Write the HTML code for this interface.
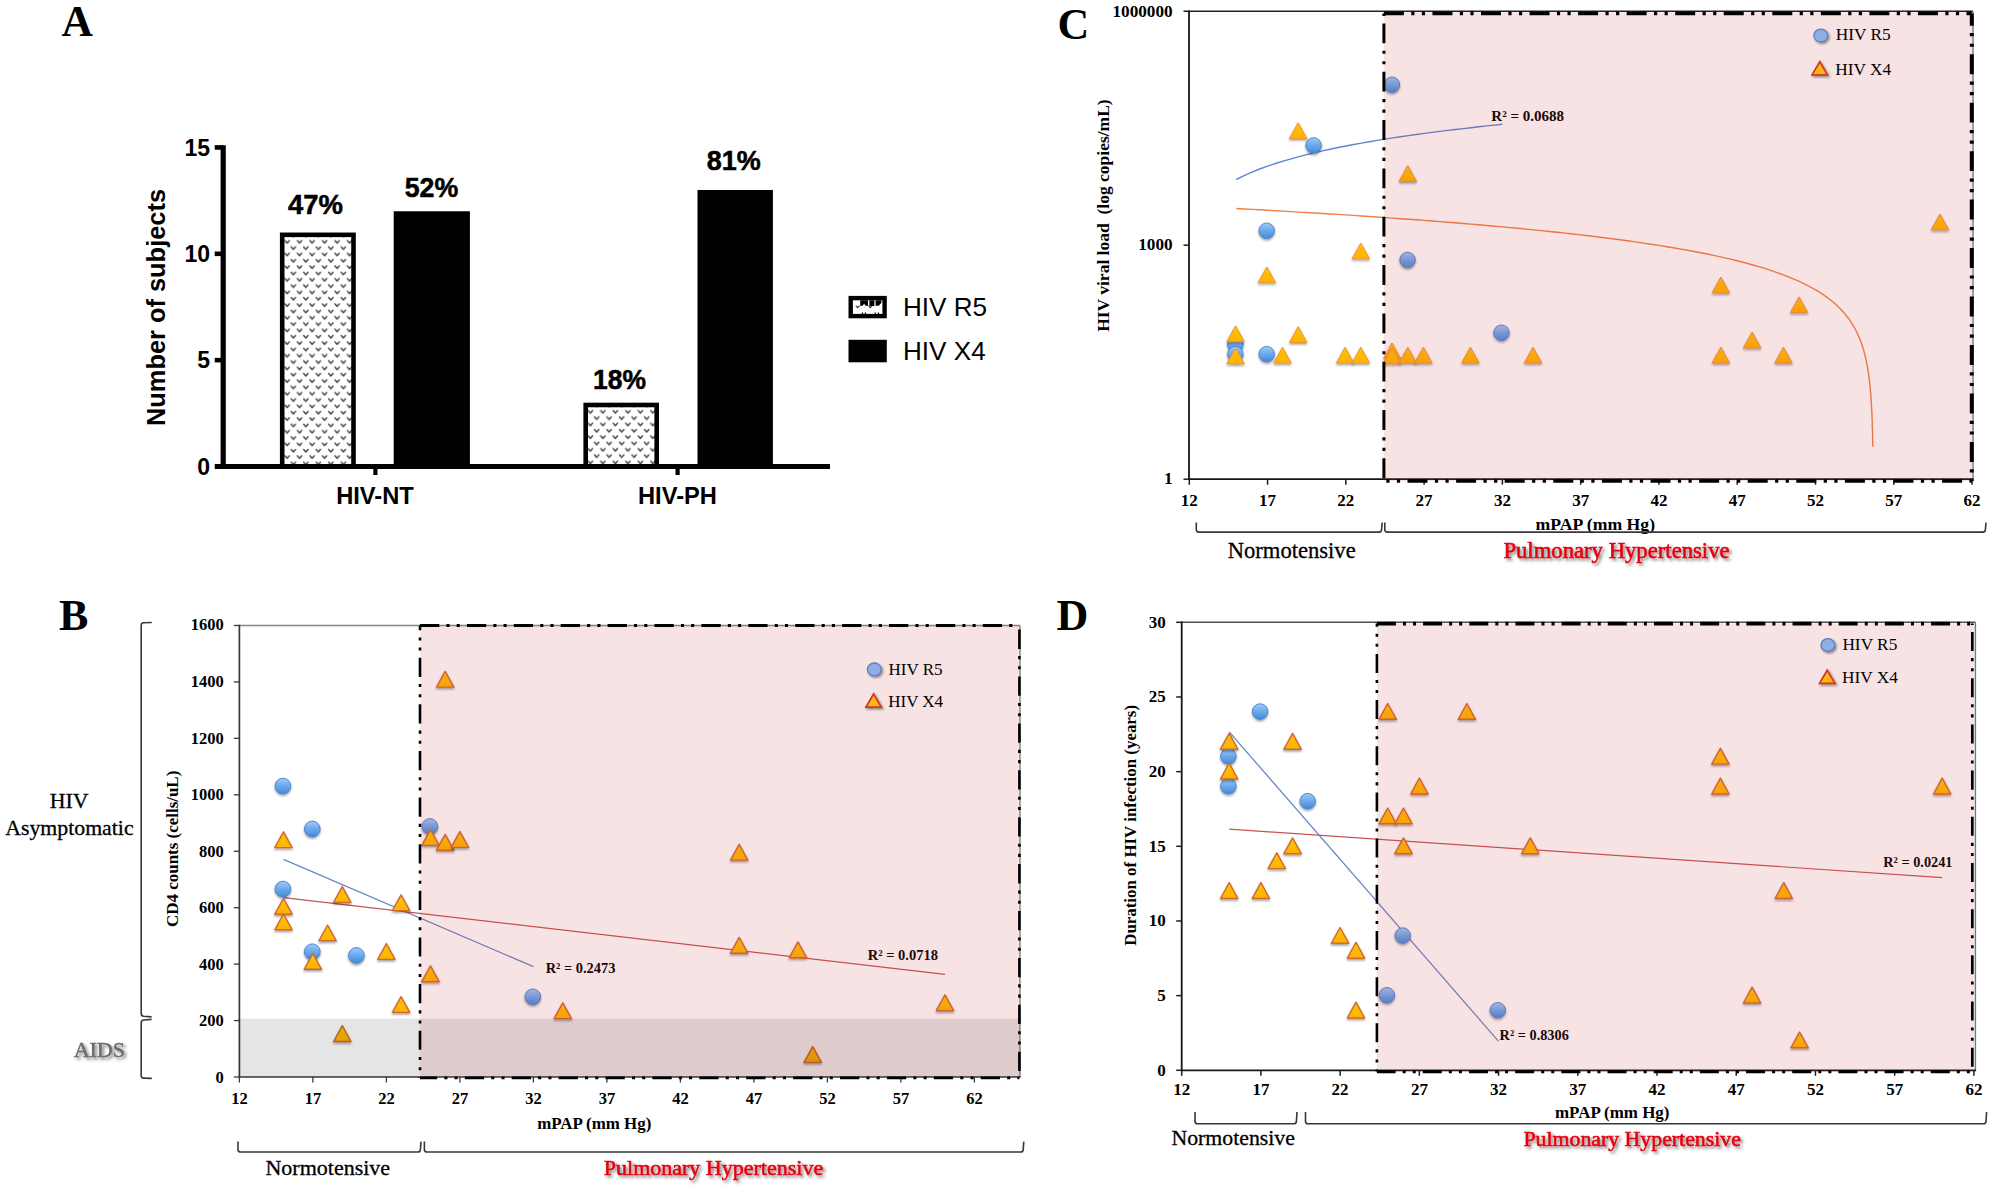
<!DOCTYPE html>
<html lang="en"><head><meta charset="utf-8"><title>HIV tropism and pulmonary hypertension</title>
<style>html,body{margin:0;padding:0;background:#fff}svg{display:block}</style></head><body>
<svg width="1990" height="1190" viewBox="0 0 1990 1190">
<defs>
<pattern id="vp1" width="12.5" height="12.66" patternUnits="userSpaceOnUse" patternTransform="translate(283.90,238.70)"><path d="M1.10 1.90 L3.20 4.40 L5.30 1.90 M7.35 8.23 L9.45 10.73 L11.55 8.23" stroke="#4a4a4a" stroke-width="1.5" fill="none" stroke-linecap="round" stroke-linejoin="round"/></pattern>
<pattern id="vp3" width="12.5" height="12.66" patternUnits="userSpaceOnUse" patternTransform="translate(587.20,408.70)"><path d="M1.10 1.90 L3.20 4.40 L5.30 1.90 M7.35 8.23 L9.45 10.73 L11.55 8.23" stroke="#4a4a4a" stroke-width="1.5" fill="none" stroke-linecap="round" stroke-linejoin="round"/></pattern>
<linearGradient id="gc" x1="0" y1="0" x2="0" y2="1"><stop offset="0" stop-color="#9ecbfa"/><stop offset="0.5" stop-color="#6aa8ec"/><stop offset="1" stop-color="#418ad8"/></linearGradient>
<linearGradient id="gt" x1="0" y1="0" x2="0" y2="1"><stop offset="0" stop-color="#ffc10a"/><stop offset="1" stop-color="#ffb300"/></linearGradient>
<filter id="ms" x="-30%" y="-30%" width="160%" height="170%"><feDropShadow dx="0" dy="1.6" stdDeviation="1.1" flood-color="#000" flood-opacity="0.38"/></filter>
<filter id="ls" x="-30%" y="-30%" width="170%" height="170%"><feDropShadow dx="1.3" dy="1.5" stdDeviation="0.9" flood-color="#000" flood-opacity="0.45"/></filter>
<filter id="ts" x="-5%" y="-20%" width="110%" height="150%"><feDropShadow dx="2.2" dy="2.2" stdDeviation="1.4" flood-color="#000" flood-opacity="0.5"/></filter>
</defs>
<rect width="1990" height="1190" fill="#fff"/>

<g id="panelA">
<text x="61.5" y="36.0" font-family="'Liberation Serif', serif" font-size="43.5" font-weight="bold" text-anchor="start" fill="#000" >A</text>
<rect x="282.20" y="234.83" width="71.30" height="231.67" fill="#fff"/>
<rect x="282.20" y="234.83" width="71.30" height="231.67" fill="url(#vp1)" stroke="#000" stroke-width="4.6"/>
<rect x="393.70" y="211.26" width="76.20" height="255.24" fill="#000"/>
<rect x="585.70" y="404.99" width="71.00" height="61.51" fill="#fff"/>
<rect x="585.70" y="404.99" width="71.00" height="61.51" fill="url(#vp3)" stroke="#000" stroke-width="4.6"/>
<rect x="697.50" y="189.99" width="75.40" height="276.51" fill="#000"/>
<line x1="223.20" y1="145.20" x2="223.20" y2="469.00" stroke="#000" stroke-width="5.2" />
<line x1="214.70" y1="466.50" x2="830.00" y2="466.50" stroke="#000" stroke-width="5" />
<text x="210.0" y="474.7" font-family="'Liberation Sans', sans-serif" font-size="23" font-weight="bold" text-anchor="end" fill="#000" >0</text>
<line x1="214.70" y1="360.15" x2="223.00" y2="360.15" stroke="#000" stroke-width="4.6" />
<text x="210.0" y="368.3" font-family="'Liberation Sans', sans-serif" font-size="23" font-weight="bold" text-anchor="end" fill="#000" >5</text>
<line x1="214.70" y1="253.80" x2="223.00" y2="253.80" stroke="#000" stroke-width="4.6" />
<text x="210.0" y="262.0" font-family="'Liberation Sans', sans-serif" font-size="23" font-weight="bold" text-anchor="end" fill="#000" >10</text>
<line x1="214.70" y1="147.45" x2="223.00" y2="147.45" stroke="#000" stroke-width="4.6" />
<text x="210.0" y="155.6" font-family="'Liberation Sans', sans-serif" font-size="23" font-weight="bold" text-anchor="end" fill="#000" >15</text>
<line x1="375.40" y1="468.00" x2="375.40" y2="475.00" stroke="#000" stroke-width="4.2" />
<line x1="677.60" y1="468.00" x2="677.60" y2="475.00" stroke="#000" stroke-width="4.2" />
<text x="375.0" y="504.3" font-family="'Liberation Sans', sans-serif" font-size="23.7" font-weight="bold" text-anchor="middle" fill="#000" >HIV-NT</text>
<text x="677.5" y="504.3" font-family="'Liberation Sans', sans-serif" font-size="23.7" font-weight="bold" text-anchor="middle" fill="#000" >HIV-PH</text>
<text transform="translate(165.2,307.5) rotate(-90)" font-family="'Liberation Sans', sans-serif" font-size="25.4" font-weight="bold" text-anchor="middle" fill="#000" >Number of subjects</text>
<text x="315.4" y="213.6" font-family="'Liberation Sans', sans-serif" font-size="27.2" font-weight="bold" text-anchor="middle" fill="#000" textLength="55" lengthAdjust="spacingAndGlyphs" stroke="#000" stroke-width="0.5">47%</text>
<text x="431.5" y="197.0" font-family="'Liberation Sans', sans-serif" font-size="27.2" font-weight="bold" text-anchor="middle" fill="#000" textLength="53.5" lengthAdjust="spacingAndGlyphs" stroke="#000" stroke-width="0.5">52%</text>
<text x="619.6" y="388.7" font-family="'Liberation Sans', sans-serif" font-size="27.2" font-weight="bold" text-anchor="middle" fill="#000" textLength="53" lengthAdjust="spacingAndGlyphs" stroke="#000" stroke-width="0.5">18%</text>
<text x="733.8" y="170.2" font-family="'Liberation Sans', sans-serif" font-size="27.2" font-weight="bold" text-anchor="middle" fill="#000" textLength="54" lengthAdjust="spacingAndGlyphs" stroke="#000" stroke-width="0.5">81%</text>
<rect x="850.7" y="298.1" width="33.9" height="18" fill="#fff" stroke="#000" stroke-width="4.4"/>
<path d="M860.2 300.2h7.8v5.6h-2.4l-1.5 -2l-1.5 2h-2.4z M869.4 300.2h5v5.8h-5z M875.6 300.2h5.8v2.6l-2.6 3h-3.2z M861.8 312.6h1.3v1.6h-1.3z M864.8 312.6h1.3v1.6h-1.3z M874.6 312.6h1.3v1.6h-1.3z M877.8 312.6h1.3v1.6h-1.3z" fill="#000"/>
<path d="M855.8 305.6 l1.9 2 l1.9 -2 M868.4 305.6 l1.9 2 l1.9 -2" stroke="#333" stroke-width="1.1" fill="none"/>
<rect x="848.5" y="339.8" width="38.3" height="22.5" fill="#000"/>
<text x="903.0" y="316.2" font-family="'Liberation Sans', sans-serif" font-size="26.1" font-weight="normal" text-anchor="start" fill="#000" >HIV R5</text>
<text x="903.0" y="359.8" font-family="'Liberation Sans', sans-serif" font-size="26.1" font-weight="normal" text-anchor="start" fill="#000" >HIV X4</text>
</g>
<g id="panelB">
<text x="59.0" y="629.7" font-family="'Liberation Serif', serif" font-size="44" font-weight="bold" text-anchor="start" fill="#000" >B</text>
<line x1="239.40" y1="625.50" x2="1020.00" y2="625.50" stroke="#858585" stroke-width="1.5" />
<line x1="1020.00" y1="625.50" x2="1020.00" y2="1077.00" stroke="#858585" stroke-width="1.4" />
<path d="M239.40 624.80 L239.40 1077.00 L1020.70 1077.00" fill="none" stroke="#383838" stroke-width="1.7"/>
<line x1="233.90" y1="1077.00" x2="239.40" y2="1077.00" stroke="#383838" stroke-width="1.3" />
<line x1="233.90" y1="1020.56" x2="239.40" y2="1020.56" stroke="#383838" stroke-width="1.3" />
<line x1="233.90" y1="964.12" x2="239.40" y2="964.12" stroke="#383838" stroke-width="1.3" />
<line x1="233.90" y1="907.68" x2="239.40" y2="907.68" stroke="#383838" stroke-width="1.3" />
<line x1="233.90" y1="851.24" x2="239.40" y2="851.24" stroke="#383838" stroke-width="1.3" />
<line x1="233.90" y1="794.80" x2="239.40" y2="794.80" stroke="#383838" stroke-width="1.3" />
<line x1="233.90" y1="738.36" x2="239.40" y2="738.36" stroke="#383838" stroke-width="1.3" />
<line x1="233.90" y1="681.92" x2="239.40" y2="681.92" stroke="#383838" stroke-width="1.3" />
<line x1="233.90" y1="625.48" x2="239.40" y2="625.48" stroke="#383838" stroke-width="1.3" />
<line x1="239.40" y1="1077.00" x2="239.40" y2="1082.50" stroke="#383838" stroke-width="1.3" />
<line x1="312.90" y1="1077.00" x2="312.90" y2="1082.50" stroke="#383838" stroke-width="1.3" />
<line x1="386.40" y1="1077.00" x2="386.40" y2="1082.50" stroke="#383838" stroke-width="1.3" />
<line x1="459.90" y1="1077.00" x2="459.90" y2="1082.50" stroke="#383838" stroke-width="1.3" />
<line x1="533.40" y1="1077.00" x2="533.40" y2="1082.50" stroke="#383838" stroke-width="1.3" />
<line x1="606.90" y1="1077.00" x2="606.90" y2="1082.50" stroke="#383838" stroke-width="1.3" />
<line x1="680.40" y1="1077.00" x2="680.40" y2="1082.50" stroke="#383838" stroke-width="1.3" />
<line x1="753.90" y1="1077.00" x2="753.90" y2="1082.50" stroke="#383838" stroke-width="1.3" />
<line x1="827.40" y1="1077.00" x2="827.40" y2="1082.50" stroke="#383838" stroke-width="1.3" />
<line x1="900.90" y1="1077.00" x2="900.90" y2="1082.50" stroke="#383838" stroke-width="1.3" />
<line x1="974.40" y1="1077.00" x2="974.40" y2="1082.50" stroke="#383838" stroke-width="1.3" />
<line x1="283.50" y1="859.42" x2="533.40" y2="966.66" stroke="#6488c4" stroke-width="1.25" />
<line x1="283.50" y1="897.66" x2="945.00" y2="974.28" stroke="#c45452" stroke-width="1.2" />
<circle cx="282.9" cy="786.1" r="7.9" fill="url(#gc)" stroke="#4a80c8" stroke-width="0.9" filter="url(#ms)"/>
<circle cx="312.3" cy="829.0" r="7.9" fill="url(#gc)" stroke="#4a80c8" stroke-width="0.9" filter="url(#ms)"/>
<circle cx="282.9" cy="889.1" r="7.9" fill="url(#gc)" stroke="#4a80c8" stroke-width="0.9" filter="url(#ms)"/>
<circle cx="312.3" cy="951.8" r="7.9" fill="url(#gc)" stroke="#4a80c8" stroke-width="0.9" filter="url(#ms)"/>
<circle cx="356.4" cy="955.5" r="7.9" fill="url(#gc)" stroke="#4a80c8" stroke-width="0.9" filter="url(#ms)"/>
<circle cx="429.9" cy="826.5" r="7.9" fill="url(#gc)" stroke="#4a80c8" stroke-width="0.9" filter="url(#ms)"/>
<circle cx="532.8" cy="996.9" r="7.9" fill="url(#gc)" stroke="#4a80c8" stroke-width="0.9" filter="url(#ms)"/>
<path d="M283.5 831.8 L292.2 847.6 L274.8 847.6 Z" fill="url(#gt)" stroke="#cf6a30" stroke-width="1.4" stroke-linejoin="round" filter="url(#ms)"/>
<path d="M283.5 898.4 L292.2 914.2 L274.8 914.2 Z" fill="url(#gt)" stroke="#cf6a30" stroke-width="1.4" stroke-linejoin="round" filter="url(#ms)"/>
<path d="M283.5 914.0 L292.2 929.8 L274.8 929.8 Z" fill="url(#gt)" stroke="#cf6a30" stroke-width="1.4" stroke-linejoin="round" filter="url(#ms)"/>
<path d="M312.9 953.5 L321.6 969.3 L304.2 969.3 Z" fill="url(#gt)" stroke="#cf6a30" stroke-width="1.4" stroke-linejoin="round" filter="url(#ms)"/>
<path d="M327.6 925.0 L336.3 940.8 L318.9 940.8 Z" fill="url(#gt)" stroke="#cf6a30" stroke-width="1.4" stroke-linejoin="round" filter="url(#ms)"/>
<path d="M342.3 886.6 L351.0 902.4 L333.6 902.4 Z" fill="url(#gt)" stroke="#cf6a30" stroke-width="1.4" stroke-linejoin="round" filter="url(#ms)"/>
<path d="M342.3 1025.7 L351.0 1041.5 L333.6 1041.5 Z" fill="url(#gt)" stroke="#cf6a30" stroke-width="1.4" stroke-linejoin="round" filter="url(#ms)"/>
<path d="M386.4 943.6 L395.1 959.4 L377.7 959.4 Z" fill="url(#gt)" stroke="#cf6a30" stroke-width="1.4" stroke-linejoin="round" filter="url(#ms)"/>
<path d="M401.1 894.8 L409.8 910.6 L392.4 910.6 Z" fill="url(#gt)" stroke="#cf6a30" stroke-width="1.4" stroke-linejoin="round" filter="url(#ms)"/>
<path d="M401.1 996.6 L409.8 1012.4 L392.4 1012.4 Z" fill="url(#gt)" stroke="#cf6a30" stroke-width="1.4" stroke-linejoin="round" filter="url(#ms)"/>
<path d="M430.5 829.6 L439.2 845.4 L421.8 845.4 Z" fill="url(#gt)" stroke="#cf6a30" stroke-width="1.4" stroke-linejoin="round" filter="url(#ms)"/>
<path d="M430.5 965.9 L439.2 981.7 L421.8 981.7 Z" fill="url(#gt)" stroke="#cf6a30" stroke-width="1.4" stroke-linejoin="round" filter="url(#ms)"/>
<path d="M445.2 671.3 L453.9 687.1 L436.5 687.1 Z" fill="url(#gt)" stroke="#cf6a30" stroke-width="1.4" stroke-linejoin="round" filter="url(#ms)"/>
<path d="M445.2 834.4 L453.9 850.2 L436.5 850.2 Z" fill="url(#gt)" stroke="#cf6a30" stroke-width="1.4" stroke-linejoin="round" filter="url(#ms)"/>
<path d="M459.9 831.6 L468.6 847.4 L451.2 847.4 Z" fill="url(#gt)" stroke="#cf6a30" stroke-width="1.4" stroke-linejoin="round" filter="url(#ms)"/>
<path d="M562.8 1002.8 L571.5 1018.6 L554.1 1018.6 Z" fill="url(#gt)" stroke="#cf6a30" stroke-width="1.4" stroke-linejoin="round" filter="url(#ms)"/>
<path d="M739.2 844.3 L747.9 860.1 L730.5 860.1 Z" fill="url(#gt)" stroke="#cf6a30" stroke-width="1.4" stroke-linejoin="round" filter="url(#ms)"/>
<path d="M739.2 937.4 L747.9 953.2 L730.5 953.2 Z" fill="url(#gt)" stroke="#cf6a30" stroke-width="1.4" stroke-linejoin="round" filter="url(#ms)"/>
<path d="M798.0 941.9 L806.7 957.7 L789.3 957.7 Z" fill="url(#gt)" stroke="#cf6a30" stroke-width="1.4" stroke-linejoin="round" filter="url(#ms)"/>
<path d="M812.7 1046.6 L821.4 1062.4 L804.0 1062.4 Z" fill="url(#gt)" stroke="#cf6a30" stroke-width="1.4" stroke-linejoin="round" filter="url(#ms)"/>
<path d="M945.0 994.9 L953.7 1010.7 L936.3 1010.7 Z" fill="url(#gt)" stroke="#cf6a30" stroke-width="1.4" stroke-linejoin="round" filter="url(#ms)"/>
<text x="545.7" y="973.4" font-family="'Liberation Serif', serif" font-size="14.4" font-weight="bold" text-anchor="start" fill="#000" >R² = 0.2473</text>
<text x="867.7" y="960.0" font-family="'Liberation Serif', serif" font-size="14.5" font-weight="bold" text-anchor="start" fill="#000" >R² = 0.0718</text>
<rect x="420" y="625.5" width="600.0" height="451.5" fill="rgba(205,60,65,0.14)"/>
<rect x="239.4" y="1018.6" width="780.6" height="58.39999999999998" fill="rgba(0,0,0,0.1)"/>
<ellipse cx="874.3" cy="669.4" rx="6.9" ry="6.4" fill="#8faee2" stroke="#5a7fc0" stroke-width="1.3" filter="url(#ls)"/>
<text x="888.5" y="675.0" font-family="'Liberation Serif', serif" font-size="17" font-weight="normal" text-anchor="start" fill="#000" >HIV R5</text>
<path d="M873.6 694.0 L881.4 707.2 L865.9 707.2 Z" fill="#fdb714" stroke="#d23a1c" stroke-width="1.7" stroke-linejoin="miter" filter="url(#ls)"/>
<text x="888.2" y="707.2" font-family="'Liberation Serif', serif" font-size="17" font-weight="normal" text-anchor="start" fill="#000" >HIV X4</text>
<line x1="420.00" y1="625.50" x2="1019.40" y2="625.50" stroke="#000" stroke-width="3.2" stroke-dasharray="19.30 7.14 3.09 7.14 3.09 7.14" stroke-dashoffset="0.00"/>
<line x1="420.00" y1="625.50" x2="420.00" y2="1077.90" stroke="#000" stroke-width="2.6" stroke-dasharray="19.18 7.10 3.07 7.10 3.07 7.10" stroke-dashoffset="14.40"/>
<line x1="1019.40" y1="625.50" x2="1019.40" y2="1077.90" stroke="#000" stroke-width="2.6" stroke-dasharray="19.30 7.14 3.09 7.14 3.09 7.14" stroke-dashoffset="42.80"/>
<line x1="420.00" y1="1077.90" x2="1019.40" y2="1077.90" stroke="#000" stroke-width="2.8" stroke-dasharray="19.30 7.14 3.09 7.14 3.09 7.14" stroke-dashoffset="2.10"/>
<text x="223.8" y="1082.7" font-family="'Liberation Serif', serif" font-size="16.5" font-weight="bold" text-anchor="end" fill="#000" >0</text>
<text x="223.8" y="1026.2" font-family="'Liberation Serif', serif" font-size="16.5" font-weight="bold" text-anchor="end" fill="#000" >200</text>
<text x="223.8" y="969.7" font-family="'Liberation Serif', serif" font-size="16.5" font-weight="bold" text-anchor="end" fill="#000" >400</text>
<text x="223.8" y="913.1" font-family="'Liberation Serif', serif" font-size="16.5" font-weight="bold" text-anchor="end" fill="#000" >600</text>
<text x="223.8" y="856.6" font-family="'Liberation Serif', serif" font-size="16.5" font-weight="bold" text-anchor="end" fill="#000" >800</text>
<text x="223.8" y="800.0" font-family="'Liberation Serif', serif" font-size="16.5" font-weight="bold" text-anchor="end" fill="#000" >1000</text>
<text x="223.8" y="743.5" font-family="'Liberation Serif', serif" font-size="16.5" font-weight="bold" text-anchor="end" fill="#000" >1200</text>
<text x="223.8" y="686.9" font-family="'Liberation Serif', serif" font-size="16.5" font-weight="bold" text-anchor="end" fill="#000" >1400</text>
<text x="223.8" y="630.4" font-family="'Liberation Serif', serif" font-size="16.5" font-weight="bold" text-anchor="end" fill="#000" >1600</text>
<text x="239.4" y="1103.9" font-family="'Liberation Serif', serif" font-size="16.5" font-weight="bold" text-anchor="middle" fill="#000" >12</text>
<text x="312.9" y="1103.9" font-family="'Liberation Serif', serif" font-size="16.5" font-weight="bold" text-anchor="middle" fill="#000" >17</text>
<text x="386.4" y="1103.9" font-family="'Liberation Serif', serif" font-size="16.5" font-weight="bold" text-anchor="middle" fill="#000" >22</text>
<text x="459.9" y="1103.9" font-family="'Liberation Serif', serif" font-size="16.5" font-weight="bold" text-anchor="middle" fill="#000" >27</text>
<text x="533.4" y="1103.9" font-family="'Liberation Serif', serif" font-size="16.5" font-weight="bold" text-anchor="middle" fill="#000" >32</text>
<text x="606.9" y="1103.9" font-family="'Liberation Serif', serif" font-size="16.5" font-weight="bold" text-anchor="middle" fill="#000" >37</text>
<text x="680.4" y="1103.9" font-family="'Liberation Serif', serif" font-size="16.5" font-weight="bold" text-anchor="middle" fill="#000" >42</text>
<text x="753.9" y="1103.9" font-family="'Liberation Serif', serif" font-size="16.5" font-weight="bold" text-anchor="middle" fill="#000" >47</text>
<text x="827.4" y="1103.9" font-family="'Liberation Serif', serif" font-size="16.5" font-weight="bold" text-anchor="middle" fill="#000" >52</text>
<text x="900.9" y="1103.9" font-family="'Liberation Serif', serif" font-size="16.5" font-weight="bold" text-anchor="middle" fill="#000" >57</text>
<text x="974.4" y="1103.9" font-family="'Liberation Serif', serif" font-size="16.5" font-weight="bold" text-anchor="middle" fill="#000" >62</text>
<text x="594.2" y="1128.6" font-family="'Liberation Serif', serif" font-size="16.9" font-weight="bold" text-anchor="middle" fill="#000" >mPAP (mm Hg)</text>
<text transform="translate(178.3,848.8) rotate(-90)" font-family="'Liberation Serif', serif" font-size="16.95" font-weight="bold" text-anchor="middle" fill="#000" >CD4 counts (cells/uL)</text>
<text x="69.2" y="807.7" font-family="'Liberation Serif', serif" font-size="21.8" font-weight="normal" text-anchor="middle" fill="#000" stroke="#000" stroke-width="0.3">HIV</text>
<text x="69.4" y="835.2" font-family="'Liberation Serif', serif" font-size="21.8" font-weight="normal" text-anchor="middle" fill="#000" stroke="#000" stroke-width="0.3">Asymptomatic</text>
<text x="99.3" y="1057.3" font-family="'Liberation Serif', serif" font-size="22" font-weight="normal" text-anchor="middle" fill="#6c6c6c" stroke="#6c6c6c" stroke-width="0.5" filter="url(#ts)">AIDS</text>
<path d="M151.8 622.5 L143.6 622.7 Q141.2 622.8 141.2 625.2 L141.2 1013.6 Q141.2 1016 143.6 1016.3 L151.6 1016.9" fill="none" stroke="#383838" stroke-width="1.6"/>
<path d="M151.6 1019.4 L143.6 1020 Q141.2 1020.3 141.2 1022.7 L141.2 1075.7 Q141.2 1078 143.6 1078.1 L151.8 1078.4" fill="none" stroke="#383838" stroke-width="1.6"/>
<path d="M238.0 1141.6 L238.0 1149.4 Q238.0 1152.0 240.6 1152.0 L417.8 1152.0 Q420.4 1152.0 420.4 1149.4 L421.0 1141.6" fill="none" stroke="#383838" stroke-width="1.6"/>
<path d="M424.4 1141.6 L424.4 1149.4 Q424.4 1152.0 427.0 1152.0 L1020.6 1152.0 Q1023.2 1152.0 1023.2 1149.4 L1023.8 1141.6" fill="none" stroke="#383838" stroke-width="1.6"/>
<text x="327.8" y="1175.1" font-family="'Liberation Serif', serif" font-size="22" font-weight="normal" text-anchor="middle" fill="#000" stroke="#000" stroke-width="0.3">Normotensive</text>
<text x="603.8" y="1175.3" font-family="'Liberation Serif', serif" font-size="22.0" font-weight="normal" text-anchor="start" fill="#e6000f" stroke="#e6000f" stroke-width="0.6" filter="url(#ts)">Pulmonary Hypertensive</text>
</g>
<g id="panelC">
<text x="1057.6" y="38.6" font-family="'Liberation Serif', serif" font-size="44" font-weight="bold" text-anchor="start" fill="#000" >C</text>
<line x1="1189.00" y1="11.30" x2="1973.00" y2="11.30" stroke="#222" stroke-width="1.5" />
<line x1="1973.00" y1="11.30" x2="1973.00" y2="479.20" stroke="#777" stroke-width="1.4" />
<path d="M1189.00 10.60 L1189.00 479.20 L1973.70 479.20" fill="none" stroke="#161616" stroke-width="1.8"/>
<line x1="1183.50" y1="479.20" x2="1189.00" y2="479.20" stroke="#1c1c1c" stroke-width="1.5" />
<line x1="1183.50" y1="245.20" x2="1189.00" y2="245.20" stroke="#1c1c1c" stroke-width="1.5" />
<line x1="1183.50" y1="11.20" x2="1189.00" y2="11.20" stroke="#1c1c1c" stroke-width="1.5" />
<line x1="1189.30" y1="479.20" x2="1189.30" y2="484.70" stroke="#1c1c1c" stroke-width="1.5" />
<line x1="1267.58" y1="479.20" x2="1267.58" y2="484.70" stroke="#1c1c1c" stroke-width="1.5" />
<line x1="1345.85" y1="479.20" x2="1345.85" y2="484.70" stroke="#1c1c1c" stroke-width="1.5" />
<line x1="1424.12" y1="479.20" x2="1424.12" y2="484.70" stroke="#1c1c1c" stroke-width="1.5" />
<line x1="1502.40" y1="479.20" x2="1502.40" y2="484.70" stroke="#1c1c1c" stroke-width="1.5" />
<line x1="1580.67" y1="479.20" x2="1580.67" y2="484.70" stroke="#1c1c1c" stroke-width="1.5" />
<line x1="1658.95" y1="479.20" x2="1658.95" y2="484.70" stroke="#1c1c1c" stroke-width="1.5" />
<line x1="1737.22" y1="479.20" x2="1737.22" y2="484.70" stroke="#1c1c1c" stroke-width="1.5" />
<line x1="1815.50" y1="479.20" x2="1815.50" y2="484.70" stroke="#1c1c1c" stroke-width="1.5" />
<line x1="1893.78" y1="479.20" x2="1893.78" y2="484.70" stroke="#1c1c1c" stroke-width="1.5" />
<line x1="1972.05" y1="479.20" x2="1972.05" y2="484.70" stroke="#1c1c1c" stroke-width="1.5" />
<polyline points="1236.3,179.5 1244.1,175.6 1251.9,172.2 1259.7,169.0 1267.6,166.2 1275.4,163.5 1283.2,161.1 1291.1,158.8 1298.9,156.6 1306.7,154.6 1314.5,152.7 1322.4,150.9 1330.2,149.2 1338.0,147.5 1345.8,146.0 1353.7,144.5 1361.5,143.1 1369.3,141.7 1377.2,140.4 1385.0,139.1 1392.8,137.9 1400.6,136.7 1408.5,135.6 1416.3,134.5 1424.1,133.4 1432.0,132.4 1439.8,131.4 1447.6,130.4 1455.4,129.5 1463.3,128.6 1471.1,127.7 1478.9,126.8 1486.7,125.9 1494.6,125.1 1502.4,124.3" fill="none" stroke="#5b86d0" stroke-width="1.4"/>
<polyline points="1236.3,208.5 1244.1,209.0 1251.9,209.4 1259.7,209.8 1267.6,210.3 1275.4,210.7 1283.2,211.1 1291.1,211.6 1298.9,212.1 1306.7,212.5 1314.5,213.0 1322.4,213.5 1330.2,214.0 1338.0,214.4 1345.8,214.9 1353.7,215.4 1361.5,216.0 1369.3,216.5 1377.2,217.0 1385.0,217.6 1392.8,218.1 1400.6,218.7 1408.5,219.2 1416.3,219.8 1424.1,220.4 1432.0,221.0 1439.8,221.6 1447.6,222.2 1455.4,222.8 1463.3,223.5 1471.1,224.1 1478.9,224.8 1486.7,225.5 1494.6,226.2 1502.4,226.9 1510.2,227.6 1518.1,228.3 1525.9,229.1 1533.7,229.9 1541.5,230.6 1549.4,231.5 1557.2,232.3 1565.0,233.1 1572.8,234.0 1580.7,234.9 1588.5,235.8 1596.3,236.8 1604.2,237.7 1612.0,238.7 1619.8,239.8 1627.6,240.8 1635.5,241.9 1643.3,243.1 1651.1,244.2 1658.9,245.4 1666.8,246.7 1674.6,248.0 1682.4,249.4 1690.3,250.8 1698.1,252.3 1705.9,253.8 1713.7,255.4 1721.6,257.1 1729.4,258.9 1737.2,260.8 1745.1,262.8 1752.9,265.0 1760.7,267.2 1768.5,269.7 1776.4,272.3 1784.2,275.2 1792.0,278.3 1799.8,281.7 1807.7,285.5 1815.5,289.8 1817.1,290.7 1818.6,291.7 1820.2,292.7 1821.8,293.7 1823.3,294.7 1824.9,295.8 1826.5,296.9 1828.0,298.1 1829.6,299.3 1831.2,300.5 1832.7,301.8 1834.3,303.1 1835.9,304.5 1837.4,305.9 1839.0,307.4 1840.5,309.0 1842.1,310.7 1843.7,312.4 1845.2,314.2 1846.8,316.2 1848.4,318.2 1849.9,320.4 1851.5,322.8 1853.1,325.3 1854.6,328.0 1856.2,331.0 1857.8,334.2 1859.3,337.8 1860.9,341.8 1862.5,346.3 1862.6,346.8 1862.8,347.3 1862.9,347.8 1863.1,348.3 1863.2,348.9 1863.4,349.4 1863.6,349.9 1863.7,350.5 1863.9,351.0 1864.0,351.6 1864.2,352.2 1864.3,352.7 1864.5,353.3 1864.7,353.9 1864.8,354.6 1865.0,355.2 1865.1,355.8 1865.3,356.5 1865.4,357.1 1865.6,357.8 1865.8,358.5 1865.9,359.2 1866.1,359.9 1866.2,360.7 1866.4,361.4 1866.5,362.2 1866.7,363.0 1866.8,363.8 1867.0,364.6 1867.2,365.4 1867.3,366.3 1867.5,367.2 1867.6,368.1 1867.8,369.0 1867.9,370.0 1868.1,371.0 1868.3,372.0 1868.4,373.1 1868.6,374.1 1868.7,375.3 1868.9,376.4 1869.0,377.6 1869.2,378.9 1869.4,380.2 1869.5,381.5 1869.7,382.9 1869.8,384.4 1870.0,385.9 1870.1,387.5 1870.3,389.2 1870.4,391.0 1870.6,392.8 1870.8,394.8 1870.9,396.9 1871.1,399.1 1871.2,401.5 1871.4,404.1 1871.5,406.9 1871.7,409.9 1871.9,413.3 1872.0,417.0 1872.2,421.1 1872.3,425.9 1872.5,431.4 1872.6,438.0 1872.8,446.2 1872.8,446.8" fill="none" stroke="#ee8148" stroke-width="1.4"/>
<circle cx="1391.9" cy="84.8" r="7.8" fill="url(#gc)" stroke="#4a80c8" stroke-width="0.9" filter="url(#ms)"/>
<circle cx="1313.6" cy="145.5" r="7.8" fill="url(#gc)" stroke="#4a80c8" stroke-width="0.9" filter="url(#ms)"/>
<circle cx="1266.7" cy="230.8" r="7.8" fill="url(#gc)" stroke="#4a80c8" stroke-width="0.9" filter="url(#ms)"/>
<circle cx="1407.6" cy="260.0" r="7.8" fill="url(#gc)" stroke="#4a80c8" stroke-width="0.9" filter="url(#ms)"/>
<circle cx="1235.4" cy="344.8" r="7.8" fill="url(#gc)" stroke="#4a80c8" stroke-width="0.9" filter="url(#ms)"/>
<circle cx="1235.4" cy="354.2" r="7.8" fill="url(#gc)" stroke="#4a80c8" stroke-width="0.9" filter="url(#ms)"/>
<circle cx="1266.7" cy="354.2" r="7.8" fill="url(#gc)" stroke="#4a80c8" stroke-width="0.9" filter="url(#ms)"/>
<circle cx="1501.5" cy="332.8" r="7.8" fill="url(#gc)" stroke="#4a80c8" stroke-width="0.9" filter="url(#ms)"/>
<path d="M1298.2 122.7 L1307.0 138.5 L1289.4 138.5 Z" fill="url(#gt)" stroke="#f0923a" stroke-width="1.0" stroke-linejoin="round" filter="url(#ms)"/>
<path d="M1407.8 165.6 L1416.6 181.4 L1399.0 181.4 Z" fill="url(#gt)" stroke="#f0923a" stroke-width="1.0" stroke-linejoin="round" filter="url(#ms)"/>
<path d="M1360.8 243.0 L1369.6 258.8 L1352.0 258.8 Z" fill="url(#gt)" stroke="#f0923a" stroke-width="1.0" stroke-linejoin="round" filter="url(#ms)"/>
<path d="M1266.9 266.9 L1275.7 282.7 L1258.1 282.7 Z" fill="url(#gt)" stroke="#f0923a" stroke-width="1.0" stroke-linejoin="round" filter="url(#ms)"/>
<path d="M1235.6 325.8 L1244.4 341.6 L1226.8 341.6 Z" fill="url(#gt)" stroke="#f0923a" stroke-width="1.0" stroke-linejoin="round" filter="url(#ms)"/>
<path d="M1235.6 348.0 L1244.4 363.8 L1226.8 363.8 Z" fill="url(#gt)" stroke="#f0923a" stroke-width="1.0" stroke-linejoin="round" filter="url(#ms)"/>
<path d="M1282.5 347.2 L1291.3 363.0 L1273.7 363.0 Z" fill="url(#gt)" stroke="#f0923a" stroke-width="1.0" stroke-linejoin="round" filter="url(#ms)"/>
<path d="M1298.2 326.6 L1307.0 342.4 L1289.4 342.4 Z" fill="url(#gt)" stroke="#f0923a" stroke-width="1.0" stroke-linejoin="round" filter="url(#ms)"/>
<path d="M1345.1 347.2 L1353.9 363.0 L1336.3 363.0 Z" fill="url(#gt)" stroke="#f0923a" stroke-width="1.0" stroke-linejoin="round" filter="url(#ms)"/>
<path d="M1360.8 347.2 L1369.6 363.0 L1352.0 363.0 Z" fill="url(#gt)" stroke="#f0923a" stroke-width="1.0" stroke-linejoin="round" filter="url(#ms)"/>
<path d="M1392.1 342.9 L1400.9 358.7 L1383.3 358.7 Z" fill="url(#gt)" stroke="#f0923a" stroke-width="1.0" stroke-linejoin="round" filter="url(#ms)"/>
<path d="M1392.1 348.0 L1400.9 363.8 L1383.3 363.8 Z" fill="url(#gt)" stroke="#f0923a" stroke-width="1.0" stroke-linejoin="round" filter="url(#ms)"/>
<path d="M1407.8 347.2 L1416.6 363.0 L1399.0 363.0 Z" fill="url(#gt)" stroke="#f0923a" stroke-width="1.0" stroke-linejoin="round" filter="url(#ms)"/>
<path d="M1423.4 347.2 L1432.2 363.0 L1414.6 363.0 Z" fill="url(#gt)" stroke="#f0923a" stroke-width="1.0" stroke-linejoin="round" filter="url(#ms)"/>
<path d="M1470.4 347.2 L1479.2 363.0 L1461.6 363.0 Z" fill="url(#gt)" stroke="#f0923a" stroke-width="1.0" stroke-linejoin="round" filter="url(#ms)"/>
<path d="M1533.0 347.2 L1541.8 363.0 L1524.2 363.0 Z" fill="url(#gt)" stroke="#f0923a" stroke-width="1.0" stroke-linejoin="round" filter="url(#ms)"/>
<path d="M1720.9 277.1 L1729.7 292.9 L1712.1 292.9 Z" fill="url(#gt)" stroke="#f0923a" stroke-width="1.0" stroke-linejoin="round" filter="url(#ms)"/>
<path d="M1720.9 347.2 L1729.7 363.0 L1712.1 363.0 Z" fill="url(#gt)" stroke="#f0923a" stroke-width="1.0" stroke-linejoin="round" filter="url(#ms)"/>
<path d="M1752.2 332.1 L1761.0 347.9 L1743.4 347.9 Z" fill="url(#gt)" stroke="#f0923a" stroke-width="1.0" stroke-linejoin="round" filter="url(#ms)"/>
<path d="M1783.5 347.2 L1792.3 363.0 L1774.7 363.0 Z" fill="url(#gt)" stroke="#f0923a" stroke-width="1.0" stroke-linejoin="round" filter="url(#ms)"/>
<path d="M1799.1 296.9 L1807.9 312.7 L1790.3 312.7 Z" fill="url(#gt)" stroke="#f0923a" stroke-width="1.0" stroke-linejoin="round" filter="url(#ms)"/>
<path d="M1940.0 214.0 L1948.8 229.8 L1931.2 229.8 Z" fill="url(#gt)" stroke="#f0923a" stroke-width="1.0" stroke-linejoin="round" filter="url(#ms)"/>
<text x="1491.3" y="120.5" font-family="'Liberation Serif', serif" font-size="15.0" font-weight="bold" text-anchor="start" fill="#000" >R² = 0.0688</text>
<rect x="1383.9" y="12.3" width="588.0999999999999" height="468.9" fill="rgba(205,60,65,0.14)"/>
<ellipse cx="1820.8" cy="35.6" rx="6.9" ry="6.4" fill="#8faee2" stroke="#5a7fc0" stroke-width="1.3" filter="url(#ls)"/>
<text x="1835.7" y="40.4" font-family="'Liberation Serif', serif" font-size="17.3" font-weight="normal" text-anchor="start" fill="#000" >HIV R5</text>
<path d="M1819.8 61.7 L1827.5 74.9 L1812.0 74.9 Z" fill="#fdb714" stroke="#d23a1c" stroke-width="1.7" stroke-linejoin="miter" filter="url(#ls)"/>
<text x="1835.2" y="74.5" font-family="'Liberation Serif', serif" font-size="17.3" font-weight="normal" text-anchor="start" fill="#000" >HIV X4</text>
<line x1="1383.90" y1="13.40" x2="1971.80" y2="13.40" stroke="#000" stroke-width="3.8" stroke-dasharray="19.98 7.39 3.20 7.39 3.20 7.39" stroke-dashoffset="0.00"/>
<line x1="1383.90" y1="13.40" x2="1383.90" y2="481.00" stroke="#000" stroke-width="3.0" stroke-dasharray="19.89 7.36 3.18 7.36 3.18 7.36" stroke-dashoffset="38.33"/>
<line x1="1971.80" y1="13.40" x2="1971.80" y2="481.00" stroke="#000" stroke-width="4.0" stroke-dasharray="19.95 7.38 3.19 7.38 3.19 7.38" stroke-dashoffset="7.67"/>
<line x1="1383.90" y1="481.00" x2="1971.80" y2="481.00" stroke="#000" stroke-width="3.6" stroke-dasharray="20.00 7.40 3.20 7.40 3.20 7.40" stroke-dashoffset="25.00"/>
<text x="1172.6" y="16.6" font-family="'Liberation Serif', serif" font-size="17.2" font-weight="bold" text-anchor="end" fill="#000" >1000000</text>
<text x="1172.6" y="249.8" font-family="'Liberation Serif', serif" font-size="17.2" font-weight="bold" text-anchor="end" fill="#000" >1000</text>
<text x="1172.6" y="483.8" font-family="'Liberation Serif', serif" font-size="17.2" font-weight="bold" text-anchor="end" fill="#000" >1</text>
<text x="1189.3" y="506.0" font-family="'Liberation Serif', serif" font-size="17" font-weight="bold" text-anchor="middle" fill="#000" >12</text>
<text x="1267.6" y="506.0" font-family="'Liberation Serif', serif" font-size="17" font-weight="bold" text-anchor="middle" fill="#000" >17</text>
<text x="1345.8" y="506.0" font-family="'Liberation Serif', serif" font-size="17" font-weight="bold" text-anchor="middle" fill="#000" >22</text>
<text x="1424.1" y="506.0" font-family="'Liberation Serif', serif" font-size="17" font-weight="bold" text-anchor="middle" fill="#000" >27</text>
<text x="1502.4" y="506.0" font-family="'Liberation Serif', serif" font-size="17" font-weight="bold" text-anchor="middle" fill="#000" >32</text>
<text x="1580.7" y="506.0" font-family="'Liberation Serif', serif" font-size="17" font-weight="bold" text-anchor="middle" fill="#000" >37</text>
<text x="1658.9" y="506.0" font-family="'Liberation Serif', serif" font-size="17" font-weight="bold" text-anchor="middle" fill="#000" >42</text>
<text x="1737.2" y="506.0" font-family="'Liberation Serif', serif" font-size="17" font-weight="bold" text-anchor="middle" fill="#000" >47</text>
<text x="1815.5" y="506.0" font-family="'Liberation Serif', serif" font-size="17" font-weight="bold" text-anchor="middle" fill="#000" >52</text>
<text x="1893.8" y="506.0" font-family="'Liberation Serif', serif" font-size="17" font-weight="bold" text-anchor="middle" fill="#000" >57</text>
<text x="1972.0" y="506.0" font-family="'Liberation Serif', serif" font-size="17" font-weight="bold" text-anchor="middle" fill="#000" >62</text>
<text x="1595.3" y="529.7" font-family="'Liberation Serif', serif" font-size="17.7" font-weight="bold" text-anchor="middle" fill="#000" >mPAP (mm Hg)</text>
<text transform="translate(1109.0,215.6) rotate(-90)" font-family="'Liberation Serif', serif" font-size="17.5" font-weight="bold" text-anchor="middle" fill="#000" >HIV viral load&#160;&#160;(log copies/mL)</text>
<path d="M1196.3 522.6 L1196.3 529.5 Q1196.3 532.1 1198.9 532.1 L1379.0 532.1 Q1381.6 532.1 1381.6 529.5 L1382.2 522.6" fill="none" stroke="#383838" stroke-width="1.6"/>
<path d="M1384.8 522.6 L1384.8 529.5 Q1384.8 532.1 1387.4 532.1 L1982.8 532.1 Q1985.4 532.1 1985.4 529.5 L1986.0 522.6" fill="none" stroke="#383838" stroke-width="1.6"/>
<text x="1291.7" y="557.8" font-family="'Liberation Serif', serif" font-size="22.6" font-weight="normal" text-anchor="middle" fill="#000" stroke="#000" stroke-width="0.3">Normotensive</text>
<text x="1503.4" y="557.7" font-family="'Liberation Serif', serif" font-size="22.7" font-weight="normal" text-anchor="start" fill="#e6000f" stroke="#e6000f" stroke-width="0.6" filter="url(#ts)">Pulmonary Hypertensive</text>
</g>
<g id="panelD">
<text x="1056.6" y="629.6" font-family="'Liberation Serif', serif" font-size="44" font-weight="bold" text-anchor="start" fill="#000" >D</text>
<line x1="1181.70" y1="622.30" x2="1975.40" y2="622.30" stroke="#505050" stroke-width="1.5" />
<line x1="1975.40" y1="622.30" x2="1975.40" y2="1070.30" stroke="#777" stroke-width="1.4" />
<path d="M1181.70 621.60 L1181.70 1070.30 L1976.10 1070.30" fill="none" stroke="#161616" stroke-width="1.8"/>
<line x1="1176.20" y1="1070.30" x2="1181.70" y2="1070.30" stroke="#1c1c1c" stroke-width="1.5" />
<line x1="1176.20" y1="995.63" x2="1181.70" y2="995.63" stroke="#1c1c1c" stroke-width="1.5" />
<line x1="1176.20" y1="920.97" x2="1181.70" y2="920.97" stroke="#1c1c1c" stroke-width="1.5" />
<line x1="1176.20" y1="846.30" x2="1181.70" y2="846.30" stroke="#1c1c1c" stroke-width="1.5" />
<line x1="1176.20" y1="771.64" x2="1181.70" y2="771.64" stroke="#1c1c1c" stroke-width="1.5" />
<line x1="1176.20" y1="696.97" x2="1181.70" y2="696.97" stroke="#1c1c1c" stroke-width="1.5" />
<line x1="1176.20" y1="622.31" x2="1181.70" y2="622.31" stroke="#1c1c1c" stroke-width="1.5" />
<line x1="1181.70" y1="1070.30" x2="1181.70" y2="1075.80" stroke="#1c1c1c" stroke-width="1.5" />
<line x1="1260.92" y1="1070.30" x2="1260.92" y2="1075.80" stroke="#1c1c1c" stroke-width="1.5" />
<line x1="1340.14" y1="1070.30" x2="1340.14" y2="1075.80" stroke="#1c1c1c" stroke-width="1.5" />
<line x1="1419.36" y1="1070.30" x2="1419.36" y2="1075.80" stroke="#1c1c1c" stroke-width="1.5" />
<line x1="1498.58" y1="1070.30" x2="1498.58" y2="1075.80" stroke="#1c1c1c" stroke-width="1.5" />
<line x1="1577.80" y1="1070.30" x2="1577.80" y2="1075.80" stroke="#1c1c1c" stroke-width="1.5" />
<line x1="1657.02" y1="1070.30" x2="1657.02" y2="1075.80" stroke="#1c1c1c" stroke-width="1.5" />
<line x1="1736.24" y1="1070.30" x2="1736.24" y2="1075.80" stroke="#1c1c1c" stroke-width="1.5" />
<line x1="1815.46" y1="1070.30" x2="1815.46" y2="1075.80" stroke="#1c1c1c" stroke-width="1.5" />
<line x1="1894.68" y1="1070.30" x2="1894.68" y2="1075.80" stroke="#1c1c1c" stroke-width="1.5" />
<line x1="1973.90" y1="1070.30" x2="1973.90" y2="1075.80" stroke="#1c1c1c" stroke-width="1.5" />
<line x1="1229.23" y1="731.92" x2="1498.58" y2="1041.33" stroke="#6488c4" stroke-width="1.25" />
<line x1="1229.23" y1="829.13" x2="1942.21" y2="877.66" stroke="#c45452" stroke-width="1.2" />
<circle cx="1228.4" cy="756.4" r="7.8" fill="url(#gc)" stroke="#4a80c8" stroke-width="0.9" filter="url(#ms)"/>
<circle cx="1228.4" cy="786.3" r="7.8" fill="url(#gc)" stroke="#4a80c8" stroke-width="0.9" filter="url(#ms)"/>
<circle cx="1260.1" cy="711.6" r="7.8" fill="url(#gc)" stroke="#4a80c8" stroke-width="0.9" filter="url(#ms)"/>
<circle cx="1307.7" cy="801.2" r="7.8" fill="url(#gc)" stroke="#4a80c8" stroke-width="0.9" filter="url(#ms)"/>
<circle cx="1386.9" cy="995.3" r="7.8" fill="url(#gc)" stroke="#4a80c8" stroke-width="0.9" filter="url(#ms)"/>
<circle cx="1402.7" cy="935.6" r="7.8" fill="url(#gc)" stroke="#4a80c8" stroke-width="0.9" filter="url(#ms)"/>
<circle cx="1497.8" cy="1010.3" r="7.8" fill="url(#gc)" stroke="#4a80c8" stroke-width="0.9" filter="url(#ms)"/>
<path d="M1229.2 733.4 L1237.9 749.2 L1220.5 749.2 Z" fill="url(#gt)" stroke="#cf6a30" stroke-width="1.4" stroke-linejoin="round" filter="url(#ms)"/>
<path d="M1229.2 763.2 L1237.9 779.0 L1220.5 779.0 Z" fill="url(#gt)" stroke="#cf6a30" stroke-width="1.4" stroke-linejoin="round" filter="url(#ms)"/>
<path d="M1229.2 882.7 L1237.9 898.5 L1220.5 898.5 Z" fill="url(#gt)" stroke="#cf6a30" stroke-width="1.4" stroke-linejoin="round" filter="url(#ms)"/>
<path d="M1260.9 882.7 L1269.6 898.5 L1252.2 898.5 Z" fill="url(#gt)" stroke="#cf6a30" stroke-width="1.4" stroke-linejoin="round" filter="url(#ms)"/>
<path d="M1276.8 852.8 L1285.5 868.6 L1268.1 868.6 Z" fill="url(#gt)" stroke="#cf6a30" stroke-width="1.4" stroke-linejoin="round" filter="url(#ms)"/>
<path d="M1292.6 733.4 L1301.3 749.2 L1283.9 749.2 Z" fill="url(#gt)" stroke="#cf6a30" stroke-width="1.4" stroke-linejoin="round" filter="url(#ms)"/>
<path d="M1292.6 837.9 L1301.3 853.7 L1283.9 853.7 Z" fill="url(#gt)" stroke="#cf6a30" stroke-width="1.4" stroke-linejoin="round" filter="url(#ms)"/>
<path d="M1340.1 927.5 L1348.8 943.3 L1331.4 943.3 Z" fill="url(#gt)" stroke="#cf6a30" stroke-width="1.4" stroke-linejoin="round" filter="url(#ms)"/>
<path d="M1356.0 942.4 L1364.7 958.2 L1347.3 958.2 Z" fill="url(#gt)" stroke="#cf6a30" stroke-width="1.4" stroke-linejoin="round" filter="url(#ms)"/>
<path d="M1356.0 1002.2 L1364.7 1018.0 L1347.3 1018.0 Z" fill="url(#gt)" stroke="#cf6a30" stroke-width="1.4" stroke-linejoin="round" filter="url(#ms)"/>
<path d="M1387.7 703.5 L1396.4 719.3 L1379.0 719.3 Z" fill="url(#gt)" stroke="#cf6a30" stroke-width="1.4" stroke-linejoin="round" filter="url(#ms)"/>
<path d="M1387.7 808.0 L1396.4 823.8 L1379.0 823.8 Z" fill="url(#gt)" stroke="#cf6a30" stroke-width="1.4" stroke-linejoin="round" filter="url(#ms)"/>
<path d="M1403.5 808.0 L1412.2 823.8 L1394.8 823.8 Z" fill="url(#gt)" stroke="#cf6a30" stroke-width="1.4" stroke-linejoin="round" filter="url(#ms)"/>
<path d="M1403.5 837.9 L1412.2 853.7 L1394.8 853.7 Z" fill="url(#gt)" stroke="#cf6a30" stroke-width="1.4" stroke-linejoin="round" filter="url(#ms)"/>
<path d="M1419.4 778.2 L1428.1 794.0 L1410.7 794.0 Z" fill="url(#gt)" stroke="#cf6a30" stroke-width="1.4" stroke-linejoin="round" filter="url(#ms)"/>
<path d="M1466.9 703.5 L1475.6 719.3 L1458.2 719.3 Z" fill="url(#gt)" stroke="#cf6a30" stroke-width="1.4" stroke-linejoin="round" filter="url(#ms)"/>
<path d="M1530.3 837.9 L1539.0 853.7 L1521.6 853.7 Z" fill="url(#gt)" stroke="#cf6a30" stroke-width="1.4" stroke-linejoin="round" filter="url(#ms)"/>
<path d="M1720.4 748.3 L1729.1 764.1 L1711.7 764.1 Z" fill="url(#gt)" stroke="#cf6a30" stroke-width="1.4" stroke-linejoin="round" filter="url(#ms)"/>
<path d="M1720.4 778.2 L1729.1 794.0 L1711.7 794.0 Z" fill="url(#gt)" stroke="#cf6a30" stroke-width="1.4" stroke-linejoin="round" filter="url(#ms)"/>
<path d="M1752.1 987.2 L1760.8 1003.0 L1743.4 1003.0 Z" fill="url(#gt)" stroke="#cf6a30" stroke-width="1.4" stroke-linejoin="round" filter="url(#ms)"/>
<path d="M1783.8 882.7 L1792.5 898.5 L1775.1 898.5 Z" fill="url(#gt)" stroke="#cf6a30" stroke-width="1.4" stroke-linejoin="round" filter="url(#ms)"/>
<path d="M1799.6 1032.0 L1808.3 1047.8 L1790.9 1047.8 Z" fill="url(#gt)" stroke="#cf6a30" stroke-width="1.4" stroke-linejoin="round" filter="url(#ms)"/>
<path d="M1942.2 778.2 L1950.9 794.0 L1933.5 794.0 Z" fill="url(#gt)" stroke="#cf6a30" stroke-width="1.4" stroke-linejoin="round" filter="url(#ms)"/>
<text x="1883.3" y="867.4" font-family="'Liberation Serif', serif" font-size="14.3" font-weight="bold" text-anchor="start" fill="#000" >R² = 0.0241</text>
<text x="1499.6" y="1040.1" font-family="'Liberation Serif', serif" font-size="14.3" font-weight="bold" text-anchor="start" fill="#000" >R² = 0.8306</text>
<rect x="1376.9" y="623.3" width="597.0" height="448.5" fill="rgba(205,60,65,0.14)"/>
<ellipse cx="1827.9" cy="645.0" rx="6.9" ry="6.4" fill="#8faee2" stroke="#5a7fc0" stroke-width="1.3" filter="url(#ls)"/>
<text x="1842.4" y="650.1" font-family="'Liberation Serif', serif" font-size="17.3" font-weight="normal" text-anchor="start" fill="#000" >HIV R5</text>
<path d="M1827.2 670.2 L1835.0 683.4 L1819.5 683.4 Z" fill="#fdb714" stroke="#d23a1c" stroke-width="1.7" stroke-linejoin="miter" filter="url(#ls)"/>
<text x="1842.0" y="682.9" font-family="'Liberation Serif', serif" font-size="17.3" font-weight="normal" text-anchor="start" fill="#000" >HIV X4</text>
<line x1="1376.90" y1="623.60" x2="1972.30" y2="623.60" stroke="#000" stroke-width="3.6" stroke-dasharray="19.01 7.03 3.04 7.03 3.04 7.03" stroke-dashoffset="0.00"/>
<line x1="1376.90" y1="623.60" x2="1376.90" y2="1071.60" stroke="#000" stroke-width="2.6" stroke-dasharray="19.01 7.03 3.04 7.03 3.04 7.03" stroke-dashoffset="15.90"/>
<line x1="1972.30" y1="623.60" x2="1972.30" y2="1071.60" stroke="#000" stroke-width="2.7" stroke-dasharray="19.01 7.03 3.04 7.03 3.04 7.03" stroke-dashoffset="37.70"/>
<line x1="1376.90" y1="1071.60" x2="1972.30" y2="1071.60" stroke="#000" stroke-width="3.2" stroke-dasharray="19.01 7.03 3.04 7.03 3.04 7.03" stroke-dashoffset="0.30"/>
<text x="1165.8" y="1075.5" font-family="'Liberation Serif', serif" font-size="17" font-weight="bold" text-anchor="end" fill="#000" >0</text>
<text x="1165.8" y="1000.8" font-family="'Liberation Serif', serif" font-size="17" font-weight="bold" text-anchor="end" fill="#000" >5</text>
<text x="1165.8" y="926.2" font-family="'Liberation Serif', serif" font-size="17" font-weight="bold" text-anchor="end" fill="#000" >10</text>
<text x="1165.8" y="851.5" font-family="'Liberation Serif', serif" font-size="17" font-weight="bold" text-anchor="end" fill="#000" >15</text>
<text x="1165.8" y="776.8" font-family="'Liberation Serif', serif" font-size="17" font-weight="bold" text-anchor="end" fill="#000" >20</text>
<text x="1165.8" y="702.2" font-family="'Liberation Serif', serif" font-size="17" font-weight="bold" text-anchor="end" fill="#000" >25</text>
<text x="1165.8" y="627.5" font-family="'Liberation Serif', serif" font-size="17" font-weight="bold" text-anchor="end" fill="#000" >30</text>
<text x="1181.7" y="1095.2" font-family="'Liberation Serif', serif" font-size="17" font-weight="bold" text-anchor="middle" fill="#000" >12</text>
<text x="1260.9" y="1095.2" font-family="'Liberation Serif', serif" font-size="17" font-weight="bold" text-anchor="middle" fill="#000" >17</text>
<text x="1340.1" y="1095.2" font-family="'Liberation Serif', serif" font-size="17" font-weight="bold" text-anchor="middle" fill="#000" >22</text>
<text x="1419.4" y="1095.2" font-family="'Liberation Serif', serif" font-size="17" font-weight="bold" text-anchor="middle" fill="#000" >27</text>
<text x="1498.6" y="1095.2" font-family="'Liberation Serif', serif" font-size="17" font-weight="bold" text-anchor="middle" fill="#000" >32</text>
<text x="1577.8" y="1095.2" font-family="'Liberation Serif', serif" font-size="17" font-weight="bold" text-anchor="middle" fill="#000" >37</text>
<text x="1657.0" y="1095.2" font-family="'Liberation Serif', serif" font-size="17" font-weight="bold" text-anchor="middle" fill="#000" >42</text>
<text x="1736.2" y="1095.2" font-family="'Liberation Serif', serif" font-size="17" font-weight="bold" text-anchor="middle" fill="#000" >47</text>
<text x="1815.5" y="1095.2" font-family="'Liberation Serif', serif" font-size="17" font-weight="bold" text-anchor="middle" fill="#000" >52</text>
<text x="1894.7" y="1095.2" font-family="'Liberation Serif', serif" font-size="17" font-weight="bold" text-anchor="middle" fill="#000" >57</text>
<text x="1973.9" y="1095.2" font-family="'Liberation Serif', serif" font-size="17" font-weight="bold" text-anchor="middle" fill="#000" >62</text>
<text x="1612.2" y="1118.4" font-family="'Liberation Serif', serif" font-size="16.95" font-weight="bold" text-anchor="middle" fill="#000" >mPAP (mm Hg)</text>
<text transform="translate(1136.3,825.4) rotate(-90)" font-family="'Liberation Serif', serif" font-size="16.9" font-weight="bold" text-anchor="middle" fill="#000" >Duration of HIV infection (years)</text>
<path d="M1195.0 1112.0 L1195.0 1121.2 Q1195.0 1123.8 1197.6 1123.8 L1293.8 1123.8 Q1296.4 1123.8 1296.4 1121.2 L1297.0 1112.0" fill="none" stroke="#383838" stroke-width="1.6"/>
<path d="M1305.5 1112.0 L1305.5 1121.2 Q1305.5 1123.8 1308.1 1123.8 L1983.4 1123.8 Q1986.0 1123.8 1986.0 1121.2 L1986.6 1112.0" fill="none" stroke="#383838" stroke-width="1.6"/>
<text x="1233.2" y="1145.3" font-family="'Liberation Serif', serif" font-size="21.8" font-weight="normal" text-anchor="middle" fill="#000" stroke="#000" stroke-width="0.3">Normotensive</text>
<text x="1523.5" y="1145.5" font-family="'Liberation Serif', serif" font-size="21.8" font-weight="normal" text-anchor="start" fill="#e6000f" stroke="#e6000f" stroke-width="0.6" filter="url(#ts)">Pulmonary Hypertensive</text>
</g>
</svg></body></html>
